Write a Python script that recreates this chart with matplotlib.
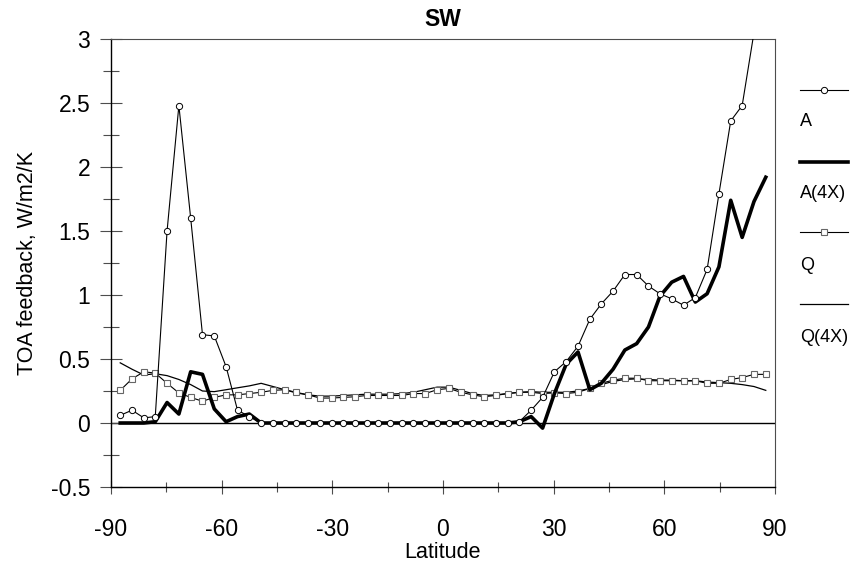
import matplotlib
matplotlib.use("Agg")
import matplotlib.pyplot as plt
from matplotlib.lines import Line2D
from matplotlib.ticker import MultipleLocator

plt.rcParams['font.family'] = ['Liberation Sans', 'DejaVu Sans']
plt.rcParams['axes.unicode_minus'] = False

# latitude grid of the model output
lat = [-87.5, -84.3, -81.1, -78.0, -74.8, -71.6, -68.4, -65.2, -62.0, -58.8,
       -55.7, -52.5, -49.3, -46.1, -42.9, -39.8, -36.6, -33.4, -30.2, -27.0,
       -23.9, -20.7, -17.5, -14.3, -11.1, -8.0, -4.8, -1.6, 1.6, 4.8,
       8.0, 11.1, 14.3, 17.5, 20.7, 23.9, 27.0, 30.2, 33.4, 36.6,
       39.8, 42.9, 46.1, 49.3, 52.5, 55.7, 58.8, 62.0, 65.2, 68.4,
       71.6, 74.8, 78.0, 81.1, 84.3, 87.5]

# SW feedback, W/m2/K
A = [0.06, 0.10, 0.04, 0.05, 1.50, 2.48, 1.60, 0.69, 0.68, 0.44,
     0.10, 0.05, 0.0, 0.0, 0.0, 0.0, 0.0, 0.0, 0.0, 0.0,
     0.0, 0.0, 0.0, 0.0, 0.0, 0.0, 0.0, 0.0, 0.0, 0.0,
     0.0, 0.0, 0.0, 0.0, 0.01, 0.10, 0.20, 0.40, 0.48, 0.60,
     0.81, 0.93, 1.03, 1.16, 1.16, 1.07, 1.01, 0.97, 0.92, 0.98,
     1.20, 1.79, 2.36, 2.48, 3.05, 3.60]

A4X = [0.0, 0.0, 0.0, 0.01, 0.16, 0.07, 0.40, 0.38, 0.11, 0.01,
       0.05, 0.07, 0.0, 0.0, 0.0, 0.0, 0.0, 0.0, 0.0, 0.0,
       0.0, 0.0, 0.0, 0.0, 0.0, 0.0, 0.0, 0.0, 0.0, 0.0,
       0.0, 0.0, 0.0, 0.0, 0.01, 0.05, -0.04, 0.23, 0.46, 0.555,
       0.26, 0.31, 0.42, 0.57, 0.62, 0.75, 0.99, 1.10, 1.145, 0.945,
       1.01, 1.22, 1.74, 1.45, 1.73, 1.92]

Q = [0.255, 0.345, 0.40, 0.39, 0.31, 0.235, 0.20, 0.17, 0.20, 0.22,
     0.22, 0.23, 0.24, 0.255, 0.26, 0.24, 0.22, 0.195, 0.195, 0.20,
     0.205, 0.215, 0.215, 0.215, 0.215, 0.23, 0.23, 0.26, 0.27, 0.24,
     0.22, 0.205, 0.215, 0.23, 0.24, 0.24, 0.23, 0.235, 0.23, 0.24,
     0.27, 0.31, 0.335, 0.35, 0.35, 0.33, 0.33, 0.33, 0.33, 0.33,
     0.31, 0.31, 0.34, 0.355, 0.38, 0.38]

Q4X = [0.47, 0.42, 0.375, 0.385, 0.37, 0.34, 0.30, 0.25, 0.245, 0.26,
       0.275, 0.29, 0.31, 0.285, 0.26, 0.235, 0.22, 0.21, 0.21, 0.215,
       0.22, 0.225, 0.225, 0.225, 0.23, 0.24, 0.26, 0.28, 0.28, 0.255,
       0.23, 0.215, 0.22, 0.23, 0.24, 0.245, 0.24, 0.24, 0.24, 0.25,
       0.27, 0.30, 0.325, 0.34, 0.345, 0.34, 0.335, 0.335, 0.33, 0.33,
       0.32, 0.315, 0.31, 0.30, 0.285, 0.255]

W, H = 861, 562
fig = plt.figure(figsize=(W / 100, H / 100), dpi=100)
ax = fig.add_axes([111 / W, 1 - 487 / H, (775 - 111) / W, (487 - 39) / H])

# style of each curve
a_style = dict(color='black', lw=0.8, marker='o', ms=4.5, mfc='white', mec='black', mew=0.7)
a4x_style = dict(color='black', lw=2.6)
q_style = dict(color='black', lw=0.8, marker='s', ms=4.5, mfc='white', mec='0.4', mew=0.8)
q4x_style = dict(color='black', lw=0.9)

ax.axhline(0, color='black', lw=1.0, zorder=1)
ax.plot(lat, Q4X, zorder=2, **q4x_style)
ax.plot(lat, Q, zorder=3, **q_style)
ax.plot(lat, A4X, zorder=4, **a4x_style)
ax.plot(lat, A, zorder=5, **a_style)

ax.set_xlim(-90, 90)
ax.set_ylim(-0.5, 3)
ax.set_xticks([-90, -60, -30, 0, 30, 60, 90])
ax.set_yticks([-0.5, 0, 0.5, 1, 1.5, 2, 2.5, 3])
ax.set_yticklabels(['-0.5', '0', '0.5', '1', '1.5', '2', '2.5', '3'])
ax.xaxis.set_minor_locator(MultipleLocator(15))
ax.yaxis.set_minor_locator(MultipleLocator(0.25))
ax.tick_params(axis='y', which='major', direction='inout', length=16, width=0.8,
               color='0.3', labelsize=16.5, pad=7)
ax.tick_params(axis='y', which='minor', direction='inout', length=11, width=0.8, color='0.3')
ax.tick_params(axis='x', which='major', direction='inout', length=10, width=0.8,
               color='0.3', labelsize=16.5, pad=17)
ax.tick_params(axis='x', which='minor', direction='inout', length=7, width=0.8, color='0.3')

for side in ['left', 'bottom']:
    ax.spines[side].set_color('black')
    ax.spines[side].set_linewidth(1.0)
for side in ['top', 'right']:
    ax.spines[side].set_color('0.3')
    ax.spines[side].set_linewidth(0.8)

ax.set_title('SW', fontsize=16.5, fontweight='bold', pad=9)
ax.set_xlabel('Latitude', fontsize=15.5, labelpad=1)
ax.set_ylabel('TOA feedback, W/m2/K', fontsize=15.5, labelpad=9)

# legend on the right: line sample with label underneath
def fx(px):
    return px / W

def fy(py):
    return 1 - py / H

entries = [('A', a_style, 90, 121),
           ('A(4X)', a4x_style, 162, 194),
           ('Q', q_style, 232, 265),
           ('Q(4X)', q4x_style, 304, 337)]
for label, style, ys, yt in entries:
    st = dict(style)
    if 'marker' in st:
        st['markevery'] = [1]
    fig.add_artist(Line2D([fx(800), fx(824), fx(848)], [fy(ys)] * 3,
                          transform=fig.transFigure, **st))
    fig.text(fx(800), fy(yt), label, fontsize=13, ha='left', va='center')

fig.savefig('out.png', dpi=100)
